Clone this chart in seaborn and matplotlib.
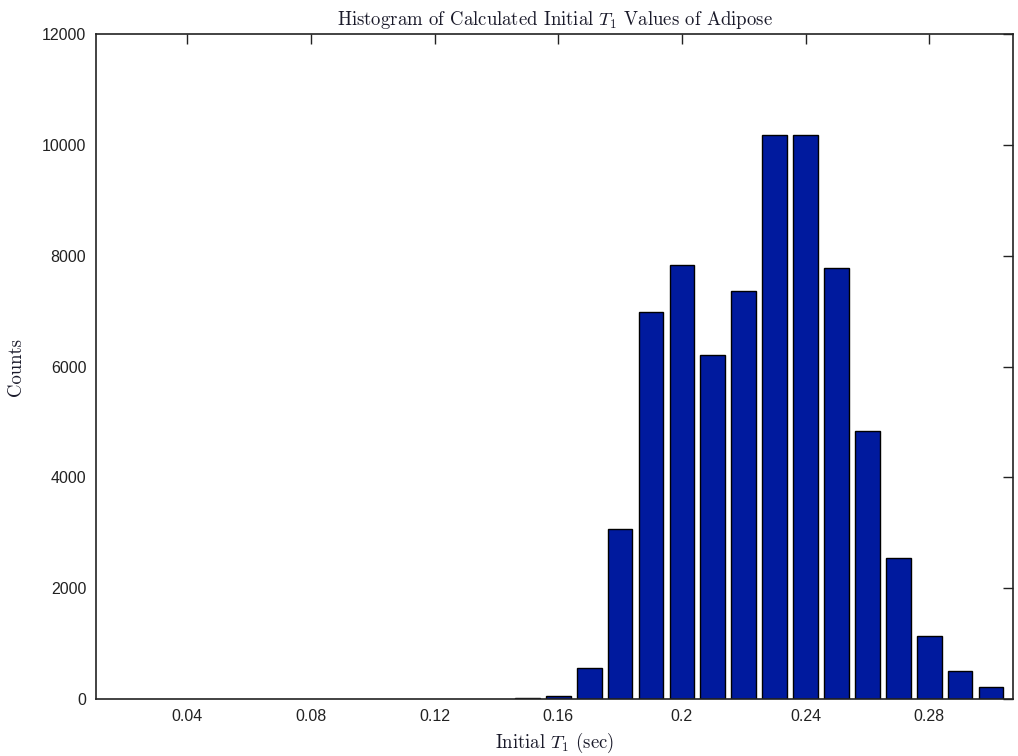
import matplotlib
matplotlib.use("Agg")
import matplotlib.pyplot as plt
import seaborn as sns
import numpy as np
import pandas as pd

# Data (bin centers in seconds, counts)
bin_centers = [0.15, 0.16, 0.17, 0.18, 0.19, 0.20, 0.21, 0.22, 0.23, 0.24,
               0.25, 0.26, 0.27, 0.28, 0.29, 0.30]
counts = [25, 55, 570, 3070, 6985, 7835, 6200, 7370, 10175, 10175,
          7785, 4835, 2550, 1145, 515, 215]
x_ticks = [0.04, 0.08, 0.12, 0.16, 0.20, 0.24, 0.28]
x_tick_labels = ["0.04", "0.08", "0.12", "0.16", "0.2", "0.24", "0.28"]
y_ticks = [0, 2000, 4000, 6000, 8000, 10000, 12000]

sns.set_style("white")
plt.rcParams["mathtext.fontset"] = "cm"
plt.rcParams["font.family"] = ["Liberation Sans", "DejaVu Sans"]

df = pd.DataFrame({"t1": bin_centers, "count": counts})
bin_w = 0.01
lo = bin_centers[0] - bin_w / 2
hi = bin_centers[-1] + bin_w / 2

fig = plt.figure(figsize=(10.18, 7.56), dpi=100)
ax = fig.add_axes([0.0943, 0.075, 0.9007, 0.8804])

sns.histplot(data=df, x="t1", weights="count", binwidth=bin_w, binrange=(lo, hi),
             shrink=0.8, color="#001A9E", alpha=1.0, edgecolor="black",
             linewidth=1.0, ax=ax)

ax.set_xlim(0.0104, 0.3071)
ax.set_ylim(0, 12000)
ax.set_xticks(x_ticks)
ax.set_xticklabels(x_tick_labels)
ax.set_yticks(y_ticks)
ax.set_yticklabels([str(v) for v in y_ticks])
ax.tick_params(direction="in", length=7, width=1, top=True, right=True,
               labelsize=11.5, labelcolor="#222222", colors="#222222", pad=7)
for s in ax.spines.values():
    s.set_visible(True)
    s.set_color("#222222")
    s.set_linewidth(1.2)

serif = dict(fontfamily="cmr10", fontsize=13.5, color="#1a1a2a")
ax.set_title(r"Histogram of Calculated Initial $T_1$ Values of Adipose", pad=6, **serif)
ax.set_xlabel(r"Initial $T_1$ (sec)", labelpad=5, **serif)
ax.set_ylabel("Counts", labelpad=12, **serif)

fig.savefig("out.png", dpi=100)
